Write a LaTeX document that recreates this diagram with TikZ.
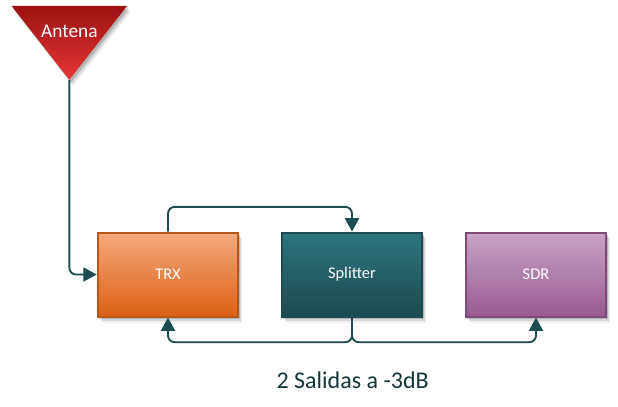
\documentclass[tikz,border=0pt]{standalone}
\usepackage{fontspec}
\setmainfont{Carlito}
\usetikzlibrary{positioning, arrows.meta, shapes.geometric, shadows}

\definecolor{wirecol}{HTML}{1C4B50}
\tikzset{
  softshadow/.style={
    drop shadow={shadow xshift=3pt, shadow yshift=-4.5pt, opacity=.12},
    drop shadow={shadow xshift=2.2pt, shadow yshift=-3.3pt, opacity=.22},
    drop shadow={shadow xshift=1.2pt, shadow yshift=-2pt, opacity=.4}},
  blockbox/.style={draw, line width=1.5pt, rectangle, minimum width=105.5pt, minimum height=63pt,
    inner sep=0pt, text=white, font=\fontsize{12.3}{14}\selectfont, softshadow},
  wire/.style={draw=wirecol, line width=1.4pt, rounded corners=5pt, -{Triangle[length=10pt,width=10.5pt]}},
}

\begin{document}
\begin{tikzpicture}[node distance=138pt,on grid]
  \useasboundingbox (0,0) rectangle (463.5pt,-305.25pt);
  \node[isosceles triangle, isosceles triangle apex angle=76, shape border rotate=270, minimum height=55.5pt,
        inner sep=0pt, draw=none, top color={rgb,255:red,155;green,18;blue,18},
        bottom color={rgb,255:red,233;green,53;blue,53}, softshadow] (antena) at (52pt,-25.5pt) {};
  \node[text=white, font=\fontsize{14.5}{17}\selectfont] (antena_label) at (52pt,-23.5pt) {Antena};
  \node[blockbox, draw={rgb,255:red,184;green,87;blue,26}, top color={rgb,255:red,244;green,170;blue,125},
        bottom color={rgb,255:red,219;green,95;blue,21}] (trx) at (126pt,-205.9pt) {TRX};
  \node[blockbox, draw=wirecol, top color={rgb,255:red,44;green,118;blue,125},
        bottom color={rgb,255:red,27;green,74;blue,79}] (splitter) [right=of trx] {Splitter};
  \node[blockbox, draw={rgb,255:red,126;green,74;blue,122}, top color={rgb,255:red,201;green,165;blue,198},
        bottom color={rgb,255:red,150;green,90;blue,143}] (sdr) [right=of splitter] {SDR};
  \node[text=wirecol!70!black, font=\fontsize{18}{21}\selectfont] (salidas) at (264.5pt,-285.5pt) {2 Salidas a -3dB};

  \draw[wire] (antena.apex) |- (trx.west);
  \draw[wire] (trx.north) -- ++(0,18.5pt) -| (splitter.north);
  \draw[wire] (splitter.south) -- ++(0,-18.5pt) -| (trx.south);
  \draw[wire] (splitter.south) -- ++(0,-18.5pt) -| (sdr.south);
\end{tikzpicture}
\end{document}
